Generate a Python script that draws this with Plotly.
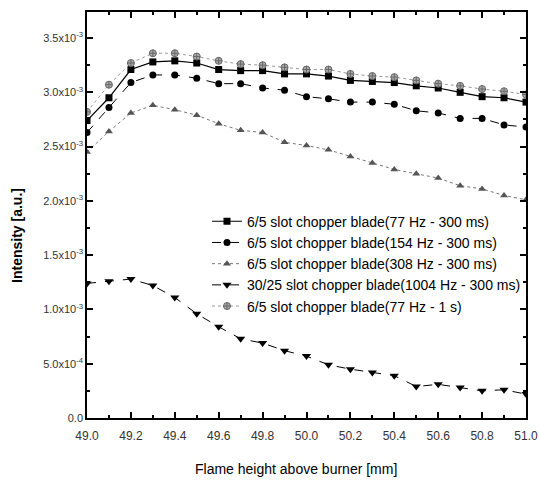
import plotly.graph_objects as go

# Flame height above burner [mm]
height_mm = [49.0, 49.1, 49.2, 49.3, 49.4, 49.5, 49.6, 49.7, 49.8, 49.9, 50.0,
             50.1, 50.2, 50.3, 50.4, 50.5, 50.6, 50.7, 50.8, 50.9, 51.0]

# Intensity [a.u.] per chopper configuration
i_77hz_300ms = [2.74e-3, 2.95e-3, 3.21e-3, 3.28e-3, 3.29e-3, 3.27e-3, 3.21e-3, 3.20e-3, 3.20e-3, 3.17e-3, 3.17e-3,
                3.15e-3, 3.11e-3, 3.10e-3, 3.09e-3, 3.06e-3, 3.04e-3, 3.00e-3, 2.96e-3, 2.95e-3, 2.91e-3]
i_154hz_300ms = [2.63e-3, 2.86e-3, 3.09e-3, 3.16e-3, 3.16e-3, 3.13e-3, 3.08e-3, 3.08e-3, 3.04e-3, 3.02e-3, 2.96e-3,
                 2.94e-3, 2.91e-3, 2.91e-3, 2.89e-3, 2.83e-3, 2.81e-3, 2.76e-3, 2.76e-3, 2.70e-3, 2.68e-3]
i_308hz_300ms = [2.45e-3, 2.64e-3, 2.81e-3, 2.88e-3, 2.84e-3, 2.79e-3, 2.71e-3, 2.65e-3, 2.63e-3, 2.54e-3, 2.51e-3,
                 2.47e-3, 2.41e-3, 2.35e-3, 2.29e-3, 2.25e-3, 2.21e-3, 2.14e-3, 2.11e-3, 2.05e-3, 2.01e-3]
i_1004hz_300ms = [1.24e-3, 1.26e-3, 1.28e-3, 1.22e-3, 1.11e-3, 0.96e-3, 0.84e-3, 0.73e-3, 0.69e-3, 0.62e-3, 0.57e-3,
                  0.49e-3, 0.45e-3, 0.42e-3, 0.39e-3, 0.29e-3, 0.31e-3, 0.28e-3, 0.25e-3, 0.26e-3, 0.22e-3]
i_77hz_1s = [2.82e-3, 3.07e-3, 3.27e-3, 3.36e-3, 3.36e-3, 3.33e-3, 3.29e-3, 3.26e-3, 3.25e-3, 3.23e-3, 3.21e-3,
             3.21e-3, 3.17e-3, 3.15e-3, 3.14e-3, 3.11e-3, 3.08e-3, 3.06e-3, 3.03e-3, 3.01e-3, 2.98e-3]

y_tickvals = [0, 0.5e-3, 1.0e-3, 1.5e-3, 2.0e-3, 2.5e-3, 3.0e-3, 3.5e-3]
y_ticktext = ["0.0", "5.0x10<sup>-4</sup>", "1.0x10<sup>-3</sup>", "1.5x10<sup>-3</sup>",
              "2.0x10<sup>-3</sup>", "2.5x10<sup>-3</sup>", "3.0x10<sup>-3</sup>", "3.5x10<sup>-3</sup>"]
x_tickvals = [49.0, 49.2, 49.4, 49.6, 49.8, 50.0, 50.2, 50.4, 50.6, 50.8, 51.0]
x_ticktext = ["49.0", "49.2", "49.4", "49.6", "49.8", "50.0", "50.2", "50.4", "50.6", "50.8", "51.0"]

series = [
    ("6/5 slot chopper blade(77 Hz - 300 ms)", i_77hz_300ms,
     dict(color="black", width=1.2, dash="solid"), dict(symbol="square", size=7, color="black")),
    ("6/5 slot chopper blade(154 Hz - 300 ms)", i_154hz_300ms,
     dict(color="black", width=1.0, dash="dash"), dict(symbol="circle", size=7, color="black")),
    ("6/5 slot chopper blade(308 Hz - 300 ms)", i_308hz_300ms,
     dict(color="#777777", width=1.0, dash="dot"), dict(symbol="triangle-up", size=7, color="#555555")),
    ("30/25 slot chopper blade(1004 Hz - 300 ms)", i_1004hz_300ms,
     dict(color="black", width=1.0, dash="dash"), dict(symbol="triangle-down", size=8, color="black")),
    ("6/5 slot chopper blade(77 Hz - 1 s)", i_77hz_1s,
     dict(color="#999999", width=1.0, dash="dot"),
     dict(symbol="circle-cross", size=7, color="#aaaaaa", line=dict(color="#666666", width=1))),
]

fig = go.Figure()
for name, vals, line, marker in series:
    fig.add_trace(go.Scatter(x=height_mm, y=vals, name=name, mode="lines+markers",
                             line=line, marker=marker))

axis_common = dict(showline=True, linecolor="black", linewidth=1.5, mirror="ticks",
                   ticks="inside", ticklen=6, tickwidth=1.5, tickcolor="black",
                   showgrid=False, zeroline=False, automargin=False)

fig.update_layout(
    width=540, height=482,
    margin=dict(l=87, r=14, t=12, b=64),
    paper_bgcolor="white", plot_bgcolor="white",
    font=dict(family="Liberation Sans, Arial, sans-serif", color="#222222"),
    showlegend=True,
    legend=dict(x=1.0, y=0.523, xanchor="right", yanchor="top",
                bgcolor="rgba(0,0,0,0)", borderwidth=0,
                font=dict(size=14, color="black"), tracegroupgap=0, itemwidth=30),
    xaxis=dict(range=[49.0, 51.0], tickvals=x_tickvals, ticktext=x_ticktext,
               tickfont=dict(size=12, color="#333333"), ticklabelstandoff=6,
               minor=dict(dtick=0.1, ticks="inside", ticklen=3, tickwidth=1.5, tickcolor="black"),
               **axis_common),
    yaxis=dict(range=[0, 3.74e-3], tickvals=y_tickvals, ticktext=y_ticktext,
               tickfont=dict(size=11, color="#333333"),
               minor=dict(tickvals=[0.25e-3, 0.75e-3, 1.25e-3, 1.75e-3, 2.25e-3, 2.75e-3, 3.25e-3, 3.75e-3],
                          ticks="inside", ticklen=3, tickwidth=1.5, tickcolor="black"),
               **axis_common),
    annotations=[
        dict(text="Flame height above burner [mm]", xref="paper", yref="paper",
             x=0.475, y=-0.125, xanchor="center", yanchor="middle", showarrow=False,
             font=dict(size=14, color="black")),
        dict(text="<b>Intensity [a.u.]</b>", xref="paper", yref="paper",
             x=-0.158, y=0.45, xanchor="center", yanchor="middle", showarrow=False,
             textangle=-90, font=dict(size=14, color="black")),
    ],
)

fig.write_html("out.html")
